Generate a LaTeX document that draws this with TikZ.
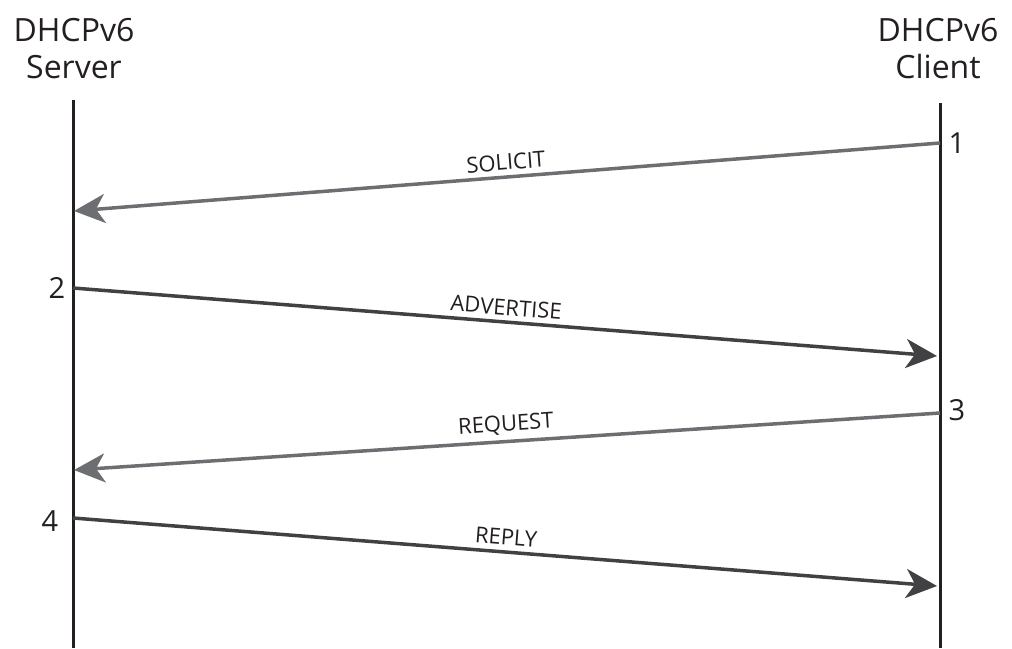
\documentclass[tikz,border=0pt]{standalone}
\usepackage{fontspec}
\setmainfont{Open Sans}
\usetikzlibrary{arrows.meta}
\definecolor{lifeline}{HTML}{231F20}
\definecolor{msgA}{HTML}{6D6E71}
\definecolor{msgB}{HTML}{414042}
\begin{document}
\begin{tikzpicture}[x=1pt,y=-1pt,
  lifeline/.style={draw=lifeline,line width=3pt},
  msg/.style={line width=3.5pt,-{Stealth[length=31pt,width=29pt,inset=9pt]}},
  msglabel/.style={sloped,above,inner sep=5pt,font=\fontsize{22}{26}\selectfont,text=lifeline},
  head/.style={align=center,font=\fontsize{32}{37}\selectfont,text=lifeline,inner sep=0pt},
  num/.style={font=\fontsize{29}{31}\selectfont,text=lifeline,inner sep=0pt}]
\useasboundingbox (0,0) rectangle (1012,648);
\node[head] (srv) at (74,49) {DHCPv6\\Server};
\node[head] (cli) at (938,49) {DHCPv6\\Client};
\coordinate (st) at (73,100);
\coordinate (sb) at (73,648);
\coordinate (ct) at (940,103);
\coordinate (cb) at (940,648);
\draw[lifeline] (st) -- (sb);
\draw[lifeline] (ct) -- (cb);
\coordinate (m1s) at (940,143);
\coordinate (m1e) at (74,211);
\coordinate (m2s) at (73,288);
\coordinate (m2e) at (937,356);
\coordinate (m3s) at (940,413);
\coordinate (m3e) at (74,470);
\coordinate (m4s) at (73,518);
\coordinate (m4e) at (937,586);
\draw[msg,msgA] (m1s) -- node[msglabel,pos=0.5] (l1) {SOLICIT} (m1e);
\draw[msg,msgB] (m2s) -- node[msglabel,pos=0.5] (l2) {ADVERTISE} (m2e);
\draw[msg,msgA] (m3s) -- node[msglabel,pos=0.5] (l3) {REQUEST} (m3e);
\draw[msg,msgB] (m4s) -- node[msglabel,pos=0.5] (l4) {REPLY} (m4e);
\node[num] (n1) at (957,143) {1};
\node[num] (n2) at (57,288) {2};
\node[num] (n3) at (957,410) {3};
\node[num] (n4) at (50,521) {4};
\end{tikzpicture}
\end{document}
